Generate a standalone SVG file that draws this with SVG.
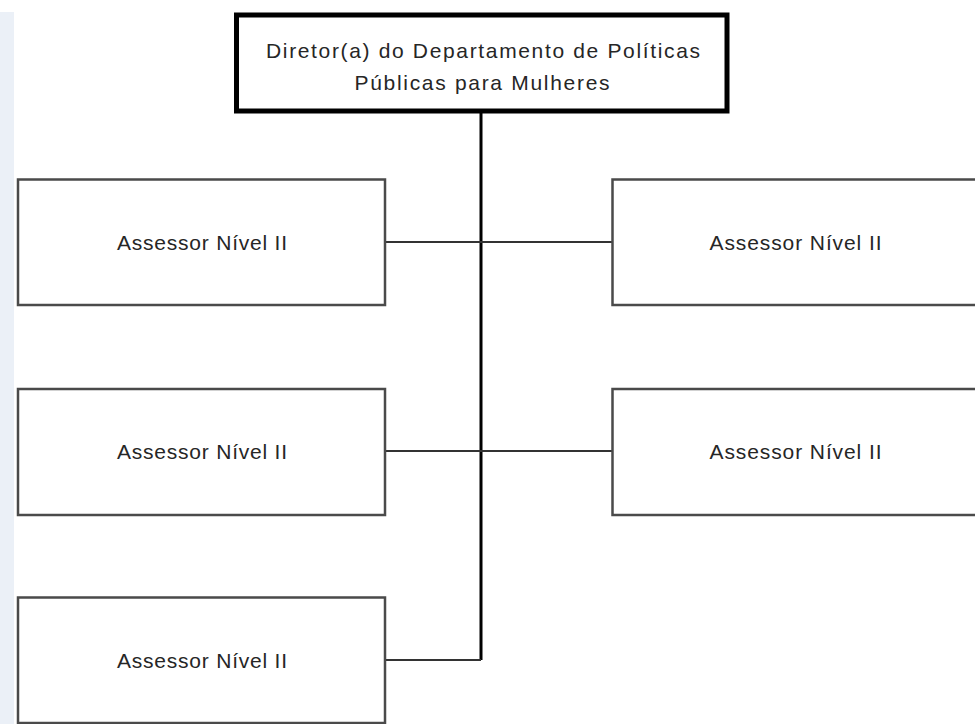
<svg xmlns="http://www.w3.org/2000/svg" width="975" height="724" viewBox="0 0 975 724">
  <style>
    .top { fill: #ffffff; stroke: #000000; stroke-width: 5; }
    .box { fill: #ffffff; stroke: #4a4a4a; stroke-width: 2.5; }
    .lbl { font-family: "Liberation Sans", Arial, sans-serif; font-size: 21px; fill: #262626; text-anchor: middle; }
    .vline { stroke: #000000; stroke-width: 3; fill: none; }
    .hline { stroke: #333333; stroke-width: 2; fill: none; }
  </style>
  <rect x="0" y="0" width="975" height="724" fill="#ffffff"/>
  <rect x="0" y="12" width="14" height="712" fill="#ebf0f7"/>

  <g id="connectors">
    <path class="vline" d="M481 113 V660"/>
    <path class="hline" d="M386 242 H612"/>
    <path class="hline" d="M386 451 H612"/>
    <path class="hline" d="M386 660 H481"/>
  </g>

  <g id="diretor">
    <rect class="top" x="236.5" y="15" width="490.5" height="96"/>
    <text class="lbl" x="483" y="58" textLength="434" lengthAdjust="spacing">Diretor(a) do Departamento de Políticas</text>
    <text class="lbl" x="482" y="90" textLength="255" lengthAdjust="spacing">Públicas para Mulheres</text>
  </g>

  <g id="assessor1">
    <rect class="box" x="18" y="179.5" width="367" height="125.5"/>
    <text class="lbl" x="202" y="250" textLength="170" lengthAdjust="spacing">Assessor Nível II</text>
  </g>
  <g id="assessor2">
    <rect class="box" x="612.5" y="179.5" width="367" height="125.5"/>
    <text class="lbl" x="795.5" y="250" textLength="172" lengthAdjust="spacing">Assessor Nível II</text>
  </g>
  <g id="assessor3">
    <rect class="box" x="18" y="389" width="367" height="126"/>
    <text class="lbl" x="202" y="459" textLength="170" lengthAdjust="spacing">Assessor Nível II</text>
  </g>
  <g id="assessor4">
    <rect class="box" x="612.5" y="389" width="367" height="126"/>
    <text class="lbl" x="795.5" y="459" textLength="172" lengthAdjust="spacing">Assessor Nível II</text>
  </g>
  <g id="assessor5">
    <rect class="box" x="18" y="597.5" width="367" height="125.5"/>
    <text class="lbl" x="202" y="668" textLength="170" lengthAdjust="spacing">Assessor Nível II</text>
  </g>
</svg>
